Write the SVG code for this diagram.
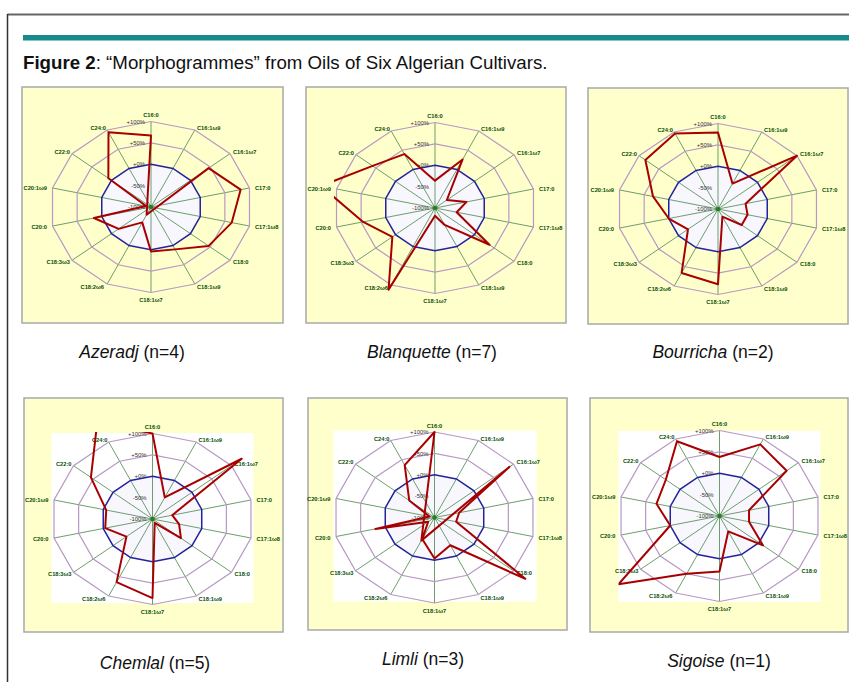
<svg xmlns="http://www.w3.org/2000/svg" xmlns:xlink="http://www.w3.org/1999/xlink" width="849" height="682" viewBox="0 0 849 682">
<style>
.panel{fill:#ffffcc;stroke:#a8a8a8;stroke-width:1.5}
.plot{fill:#ffffff}
.inner{fill:#f7f7fd;stroke:none}
.spoke{fill:none;stroke:#6e9e6e;stroke-width:1}
.ring{fill:none;stroke:#b898c4;stroke-width:1.2}
.zero{fill:none;stroke:#23239c;stroke-width:1.5}
.data{fill:none;stroke:#a80000;stroke-width:2;stroke-linejoin:round}
.ax{font-family:"Liberation Sans",Arial,sans-serif;font-size:5.7px;font-weight:bold;fill:#064e06}
.e{text-anchor:end}
.m{text-anchor:middle}
.tk{font-family:"Liberation Sans",Arial,sans-serif;font-size:5.9px;fill:#333;text-anchor:end}
.cap{font-family:"Liberation Sans",Arial,sans-serif;font-size:17.5px;fill:#111;text-anchor:middle}
.dot{fill:#2a7a2a}
</style>
<defs>
<clipPath id="pa"><rect x="-101" y="-87" width="202" height="172"/></clipPath>
<g id="grid">
<polygon class="inner" points="0,-42.75 21.91,-38.52 39.48,-26.66 49.24,-9.52 49.24,9.52 39.48,26.66 21.91,38.52 0,42.75 -21.91,38.52 -39.48,26.66 -49.24,9.52 -49.24,-9.52 -39.48,-26.66 -21.91,-38.52"/>
<path class="spoke" d="M0 0V-85.5M0 0L43.82 -77.03M0 0L78.96 -53.31M0 0L98.47 -19.03M0 0L98.47 19.03M0 0L78.96 53.31M0 0L43.82 77.03M0 0V85.5M0 0L-43.82 77.03M0 0L-78.96 53.31M0 0L-98.47 19.03M0 0L-98.47 -19.03M0 0L-78.96 -53.31M0 0L-43.82 -77.03"/>
<polygon class="ring" points="0,-64.13 32.87,-57.77 59.22,-39.98 73.85,-14.27 73.85,14.27 59.22,39.98 32.87,57.77 0,64.13 -32.87,57.77 -59.22,39.98 -73.85,14.27 -73.85,-14.27 -59.22,-39.98 -32.87,-57.77"/>
<polygon class="ring" points="0,-85.5 43.82,-77.03 78.96,-53.31 98.47,-19.03 98.47,19.03 78.96,53.31 43.82,77.03 0,85.5 -43.82,77.03 -78.96,53.31 -98.47,19.03 -98.47,-19.03 -78.96,-53.31 -43.82,-77.03"/>
<polygon class="zero" points="0,-42.75 21.91,-38.52 39.48,-26.66 49.24,-9.52 49.24,9.52 39.48,26.66 21.91,38.52 0,42.75 -21.91,38.52 -39.48,26.66 -49.24,9.52 -49.24,-9.52 -39.48,-26.66 -21.91,-38.52"/>
</g>
</defs>

<g id="frame">
<line x1="7.5" y1="14.5" x2="849" y2="14.5" stroke="#666" stroke-width="2"/>
<line x1="7.5" y1="14" x2="7.5" y2="682" stroke="#333" stroke-width="1.5"/>
<rect x="23" y="35" width="826" height="5.5" fill="#178a8c"/>
<text x="23" y="68.5" font-family="'Liberation Sans',Arial,sans-serif" font-size="18.7" fill="#111"><tspan font-weight="bold">Figure 2</tspan>: “Morphogrammes” from Oils of Six Algerian Cultivars.</text>
</g>

<g id="azeradj">
<rect class="panel" x="22" y="87" width="261" height="236"/>
<g transform="translate(151,207)">
<use xlink:href="#grid" href="#grid"/>
<text class="tk" x="-6" y="-83.5">+100%</text><text class="tk" x="-6" y="-62">+50%</text><text class="tk" x="-6" y="-40.7">+0%</text><text class="tk" x="-6" y="-19.4">-50%</text><text class="tk" x="-6" y="2">-100%</text>
<text class="ax m" x="0" y="-90">C16:0</text><text class="ax" x="46" y="-77">C16:1ω9</text><text class="ax" x="82" y="-53.5">C16:1ω7</text><text class="ax" x="104" y="-17">C17:0</text><text class="ax" x="104" y="22">C17:1ω8</text><text class="ax" x="82" y="57">C18:0</text><text class="ax" x="46" y="82">C18:1ω9</text><text class="ax m" x="0" y="95">C18:1ω7</text><text class="ax e" x="-47" y="82">C18:2ω6</text><text class="ax e" x="-81" y="57">C18:3ω3</text><text class="ax e" x="-104" y="22">C20:0</text><text class="ax e" x="-104" y="-17">C20:1ω9</text><text class="ax e" x="-81" y="-53.5">C22:0</text><text class="ax e" x="-45" y="-77">C24:0</text>
<polygon class="data" clip-path="url(#pa)" points="0,-71.39 -4.38,7.70 57.64,-38.92 89.61,-17.32 80.75,15.60 57.64,38.92 24.10,42.37 0,44.46 -8.76,15.41 -32.37,21.86 -57.11,11.04 -4.92,-0.95 -42.64,-28.79 -42.51,-74.72"/>
<circle class="dot" r="2.2"/>
</g>
<text class="cap" x="132" y="358"><tspan font-style="italic">Azeradj</tspan> (n=4)</text>
</g>

<g id="blanquette">
<rect class="panel" x="306" y="87" width="260" height="236"/>
<g transform="translate(435,208)">
<use xlink:href="#grid" href="#grid"/>
<text class="tk" x="-6" y="-83.5">+100%</text><text class="tk" x="-6" y="-62">+50%</text><text class="tk" x="-6" y="-40.7">+0%</text><text class="tk" x="-6" y="-19.4">-50%</text><text class="tk" x="-6" y="2">-100%</text>
<text class="ax m" x="0" y="-90">C16:0</text><text class="ax" x="46" y="-77">C16:1ω9</text><text class="ax" x="82" y="-53.5">C16:1ω7</text><text class="ax" x="104" y="-17">C17:0</text><text class="ax" x="104" y="22">C17:1ω8</text><text class="ax" x="82" y="57">C18:0</text><text class="ax" x="46" y="82">C18:1ω9</text><text class="ax m" x="0" y="95">C18:1ω7</text><text class="ax e" x="-47" y="82">C18:2ω6</text><text class="ax e" x="-81" y="57">C18:3ω3</text><text class="ax e" x="-104" y="22">C20:0</text><text class="ax e" x="-104" y="-17">C20:1ω9</text><text class="ax e" x="-81" y="-53.5">C22:0</text><text class="ax e" x="-45" y="-77">C24:0</text>
<polygon class="data" clip-path="url(#pa)" points="0,-27.36 27.61,-48.53 11.84,-8.00 31.51,-6.09 21.66,4.19 54.48,36.78 9.64,16.95 0,7.70 -46.45,81.65 -42.64,28.79 -71.88,13.89 -114.23,-22.07 -62.38,-42.11 -30.67,-53.92"/>
<circle class="dot" r="2.2"/>
</g>
<text class="cap" x="432" y="358"><tspan font-style="italic">Blanquette</tspan> (n=7)</text>
</g>

<g id="bourricha">
<rect class="panel" x="588" y="88" width="260" height="236"/>
<g transform="translate(718,209)">
<use xlink:href="#grid" href="#grid"/>
<text class="tk" x="-6" y="-83.5">+100%</text><text class="tk" x="-6" y="-62">+50%</text><text class="tk" x="-6" y="-40.7">+0%</text><text class="tk" x="-6" y="-19.4">-50%</text><text class="tk" x="-6" y="2">-100%</text>
<text class="ax m" x="0" y="-90">C16:0</text><text class="ax" x="46" y="-77">C16:1ω9</text><text class="ax" x="82" y="-53.5">C16:1ω7</text><text class="ax" x="104" y="-17">C17:0</text><text class="ax" x="104" y="22">C17:1ω8</text><text class="ax" x="82" y="57">C18:0</text><text class="ax" x="46" y="82">C18:1ω9</text><text class="ax m" x="0" y="95">C18:1ω7</text><text class="ax e" x="-47" y="82">C18:2ω6</text><text class="ax e" x="-81" y="57">C18:3ω3</text><text class="ax e" x="-104" y="22">C20:0</text><text class="ax e" x="-104" y="-17">C20:1ω9</text><text class="ax e" x="-81" y="-53.5">C22:0</text><text class="ax e" x="-45" y="-77">C24:0</text>
<polygon class="data" clip-path="url(#pa)" points="0,-76.52 14.46,-25.42 78.96,-53.31 27.57,-5.33 29.54,5.71 23.69,15.99 4.38,7.70 0,75.24 -36.37,63.93 -30.00,20.26 -49.24,9.52 -64.99,-12.56 -72.64,-49.05 -42.94,-75.49"/>
<circle class="dot" r="2.2"/>
</g>
<text class="cap" x="713" y="358"><tspan font-style="italic">Bourricha</tspan> (n=2)</text>
</g>

<g id="chemlal">
<rect class="panel" x="24" y="398" width="259" height="234"/>
<g transform="translate(152.5,519)">
<rect class="plot" x="-101" y="-86" width="202" height="170"/>
<use xlink:href="#grid" href="#grid"/>
<text class="tk" x="-6" y="-83.5">+100%</text><text class="tk" x="-6" y="-62">+50%</text><text class="tk" x="-6" y="-40.7">+0%</text><text class="tk" x="-6" y="-19.4">-50%</text><text class="tk" x="-6" y="2">-100%</text>
<text class="ax m" x="0" y="-90">C16:0</text><text class="ax" x="46" y="-77">C16:1ω9</text><text class="ax" x="82" y="-53.5">C16:1ω7</text><text class="ax" x="104" y="-17">C17:0</text><text class="ax" x="104" y="22">C17:1ω8</text><text class="ax" x="82" y="57">C18:0</text><text class="ax" x="46" y="82">C18:1ω9</text><text class="ax m" x="0" y="95">C18:1ω7</text><text class="ax e" x="-47" y="82">C18:2ω6</text><text class="ax e" x="-81" y="57">C18:3ω3</text><text class="ax e" x="-104" y="22">C20:0</text><text class="ax e" x="-104" y="-17">C20:1ω9</text><text class="ax e" x="-81" y="-53.5">C22:0</text><text class="ax e" x="-45" y="-77">C24:0</text>
<polygon class="data" clip-path="url(#pa)" points="0,-85.5 12.27,-21.57 89.22,-60.24 19.69,-3.81 26.59,5.14 28.43,19.19 2.19,3.85 0,79.09 -35.93,63.16 -26.06,17.59 -47.27,9.13 -46.28,-8.94 -61.59,-41.58 -55.21,-97.06"/>
<circle class="dot" r="2.2"/>
</g>
<text class="cap" x="155" y="669"><tspan font-style="italic">Chemlal</tspan> (n=5)</text>
</g>

<g id="limli">
<rect class="panel" x="308" y="398" width="259" height="232"/>
<g transform="translate(434.5,517.5)">
<rect class="plot" x="-101" y="-87" width="203" height="171"/>
<use xlink:href="#grid" href="#grid"/>
<text class="tk" x="-6" y="-83.5">+100%</text><text class="tk" x="-6" y="-62">+50%</text><text class="tk" x="-6" y="-40.7">+0%</text><text class="tk" x="-6" y="-19.4">-50%</text><text class="tk" x="-6" y="2">-100%</text>
<text class="ax m" x="0" y="-90">C16:0</text><text class="ax" x="46" y="-77">C16:1ω9</text><text class="ax" x="82" y="-53.5">C16:1ω7</text><text class="ax" x="104" y="-17">C17:0</text><text class="ax" x="104" y="22">C17:1ω8</text><text class="ax" x="82" y="57">C18:0</text><text class="ax" x="46" y="82">C18:1ω9</text><text class="ax m" x="0" y="95">C18:1ω7</text><text class="ax e" x="-47" y="82">C18:2ω6</text><text class="ax e" x="-81" y="57">C18:3ω3</text><text class="ax e" x="-104" y="22">C20:0</text><text class="ax e" x="-104" y="-17">C20:1ω9</text><text class="ax e" x="-81" y="-53.5">C22:0</text><text class="ax e" x="-45" y="-77">C24:0</text>
<polygon class="data" clip-path="url(#pa)" points="0,-85.5 -13.15,23.11 75.01,-50.64 24.62,-4.76 21.66,4.19 90.80,61.31 15.78,27.73 0,41.04 -12.27,21.57 -6.32,4.26 -59.08,11.42 -4.92,-0.95 -25.27,-17.06 -29.80,-52.38"/>
<circle class="dot" r="2.2"/>
</g>
<text class="cap" x="423" y="665"><tspan font-style="italic">Limli</tspan> (n=3)</text>
</g>

<g id="sigoise">
<rect class="panel" x="590" y="398" width="258" height="234"/>
<g transform="translate(719.5,516)">
<rect class="plot" x="-101" y="-85" width="202" height="171"/>
<use xlink:href="#grid" href="#grid"/>
<text class="tk" x="-6" y="-83.5">+100%</text><text class="tk" x="-6" y="-62">+50%</text><text class="tk" x="-6" y="-40.7">+0%</text><text class="tk" x="-6" y="-19.4">-50%</text><text class="tk" x="-6" y="2">-100%</text>
<text class="ax m" x="0" y="-90">C16:0</text><text class="ax" x="46" y="-77">C16:1ω9</text><text class="ax" x="82" y="-53.5">C16:1ω7</text><text class="ax" x="104" y="-17">C17:0</text><text class="ax" x="104" y="22">C17:1ω8</text><text class="ax" x="82" y="57">C18:0</text><text class="ax" x="46" y="82">C18:1ω9</text><text class="ax m" x="0" y="95">C18:1ω7</text><text class="ax e" x="-47" y="82">C18:2ω6</text><text class="ax e" x="-81" y="57">C18:3ω3</text><text class="ax e" x="-104" y="22">C20:0</text><text class="ax e" x="-104" y="-17">C20:1ω9</text><text class="ax e" x="-81" y="-53.5">C22:0</text><text class="ax e" x="-45" y="-77">C24:0</text>
<polygon class="data" clip-path="url(#pa)" points="0,-59.00 40.75,-71.64 67.12,-45.31 29.54,-5.71 29.54,5.71 43.43,29.32 8.76,15.41 0,55.58 -32.87,57.77 -101.07,68.24 -49.24,9.52 -63.02,-12.18 -53.69,-36.25 -42.51,-74.72"/>
<circle class="dot" r="2.2"/>
</g>
<text class="cap" x="719" y="667"><tspan font-style="italic">Sigoise</tspan> (n=1)</text>
</g>
</svg>
